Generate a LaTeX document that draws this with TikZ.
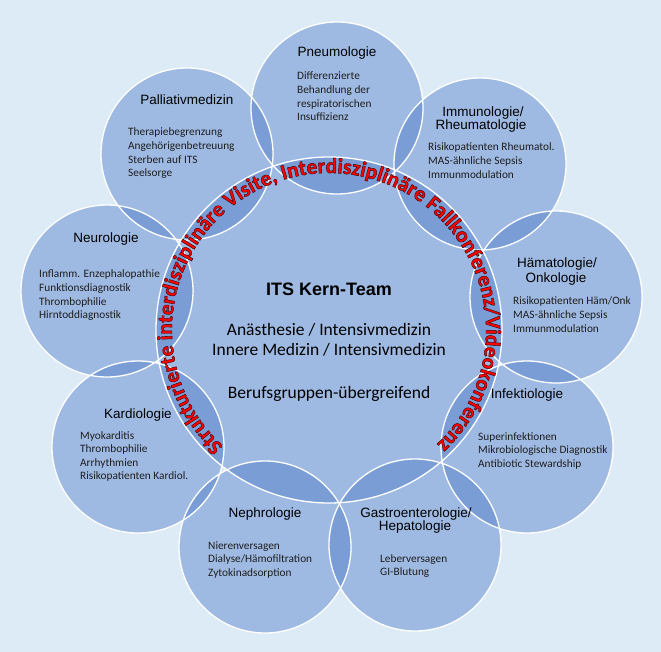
\documentclass[tikz,border=0pt]{standalone}
\usepackage{fontspec}
\newfontfamily\headfont{Liberation Sans}
\newfontfamily\bodyfont{Carlito}
\usetikzlibrary{decorations.text}
\definecolor{bgc}{HTML}{DDEBF7}
\definecolor{circc}{HTML}{4472C4}
\definecolor{bodyc}{HTML}{1E1E1E}
\newcommand\ringoutline{\special{pdf:literal direct 0.2 0 0 RG 2 Tr 0.4 w}}
\tikzset{
  x=1pt, y=-1pt,
  circfill/.style={fill=circc, fill opacity=0.4},
  circline/.style={draw=white, line width=1.3pt},
  headtxt/.style={font=\headfont\fontsize{13.5}{13}\selectfont, inner sep=0pt, anchor=base, text=black},
  bodytxt/.style={font=\bodyfont\fontsize{11.3}{13.6}\selectfont, inner sep=0pt, anchor=base west, text=bodyc},
  centitle/.style={font=\headfont\bfseries\fontsize{18}{20}\selectfont, inner sep=0pt, anchor=base, text=black},
  centxt/.style={font=\bodyfont\fontsize{17.5}{20}\selectfont, inner sep=0pt, anchor=base, text=black},
  ringtxt/.style={decorate, decoration={text along path, text align=center,
     text={|\bodyfont\bfseries\fontsize{21.5}{22}\selectfont\color{red}\ringoutline|Strukturierte interdisziplinäre Visite, Interdisziplinäre Fallkonferenz/Videokonferenz}}}
}
\newcommand\bodylines[4]{%
  \foreach \myl [count=\i] in {#4} {\node[bodytxt] (#1\i) at (#2,{#3+(\i-1)*13.6}) {\myl};}}
\begin{document}
\begin{tikzpicture}
\fill[bgc] (0,0) rectangle (661,652);
\path[use as bounding box] (0,0) rectangle (661,652);
% centres
\coordinate (cen) at (329,330);
\coordinate (pneu) at (337,108);
\coordinate (immu) at (480,164);
\coordinate (haem) at (556,297);
\coordinate (infe) at (527,447);
\coordinate (gast) at (415,545);
\coordinate (neph) at (265,547);
\coordinate (kard) at (138,447);
\coordinate (neur) at (107,291);
\coordinate (pall) at (187,154);
% fills
\fill[circfill] (cen) circle[radius=173pt];
\foreach \c in {pneu,immu,haem,infe,gast,neph,kard,neur,pall}
  \fill[circfill] (\c) circle[radius=86pt];
% outlines
\draw[circline] (cen) circle[radius=173pt];
\foreach \c in {pneu,immu,haem,infe,gast,neph,kard,neur,pall}
  \draw[circline] (\c) circle[radius=86pt];
% headings
\node[headtxt] (hpneu) at (337,57) {Pneumologie};
\node[headtxt] (hpall) at (187,105) {Palliativmedizin};
\node[headtxt] (hneur) at (106,243) {Neurologie};
\node[headtxt] (himmu1) at (483,117) {Immunologie/};
\node[headtxt] (himmu2) at (481,130) {Rheumatologie};
\node[headtxt] (hhaem1) at (557,268) {Hämatologie/};
\node[headtxt] (hhaem2) at (556,283) {Onkologie};
\node[headtxt] (hkard) at (138,418) {Kardiologie};
\node[headtxt] (hneph) at (265,517) {Nephrologie};
\node[headtxt] (hgast1) at (416,517) {Gastroenterologie/};
\node[headtxt] (hgast2) at (415,530) {Hepatologie};
\node[headtxt] (hinfe) at (527,398) {Infektiologie};
% bodies
\bodylines{bpneu}{297}{80}{Differenzierte,Behandlung der,respiratorischen,Insuffizienz}
\bodylines{bpall}{128}{136}{Therapiebegrenzung,Angehörigenbetreuung,Sterben auf ITS,Seelsorge}
\bodylines{bneur}{39}{278}{Inflamm. Enzephalopathie,Funktionsdiagnostik,Thrombophilie,Hirntoddiagnostik}
\bodylines{bimmu}{428}{151}{Risikopatienten Rheumatol.,MAS-ähnliche Sepsis,Immunmodulation}
\bodylines{bhaem}{513}{305}{Risikopatienten Häm/Onk,MAS-ähnliche Sepsis,Immunmodulation}
\bodylines{bkard}{80}{439}{Myokarditis,Thrombophilie,Arrhythmien,Risikopatienten Kardiol.}
\bodylines{bneph}{208}{549}{Nierenversagen,Dialyse/Hämofiltration,Zytokinadsorption}
\bodylines{bgast}{380}{562}{Leberversagen,GI-Blutung}
\bodylines{binfe}{478}{440}{Superinfektionen,Mikrobiologische Diagnostik,Antibiotic Stewardship}
% centre
\node[centitle] (ctitle) at (329,295) {ITS Kern-Team};
\node[centxt] (cl1) at (329,335) {Anästhesie / Intensivmedizin};
\node[centxt] (cl2) at (329,355) {Innere Medizin / Intensivmedizin};
\node[centxt] (cl3) at (329,398) {Berufsgruppen-übergreifend};
% ring text (red with dark outline)
\path[ringtxt] ([shift={(229:157pt)}]329,330) arc[start angle=229, end angle=-48, radius=157pt];
\end{tikzpicture}
\end{document}
